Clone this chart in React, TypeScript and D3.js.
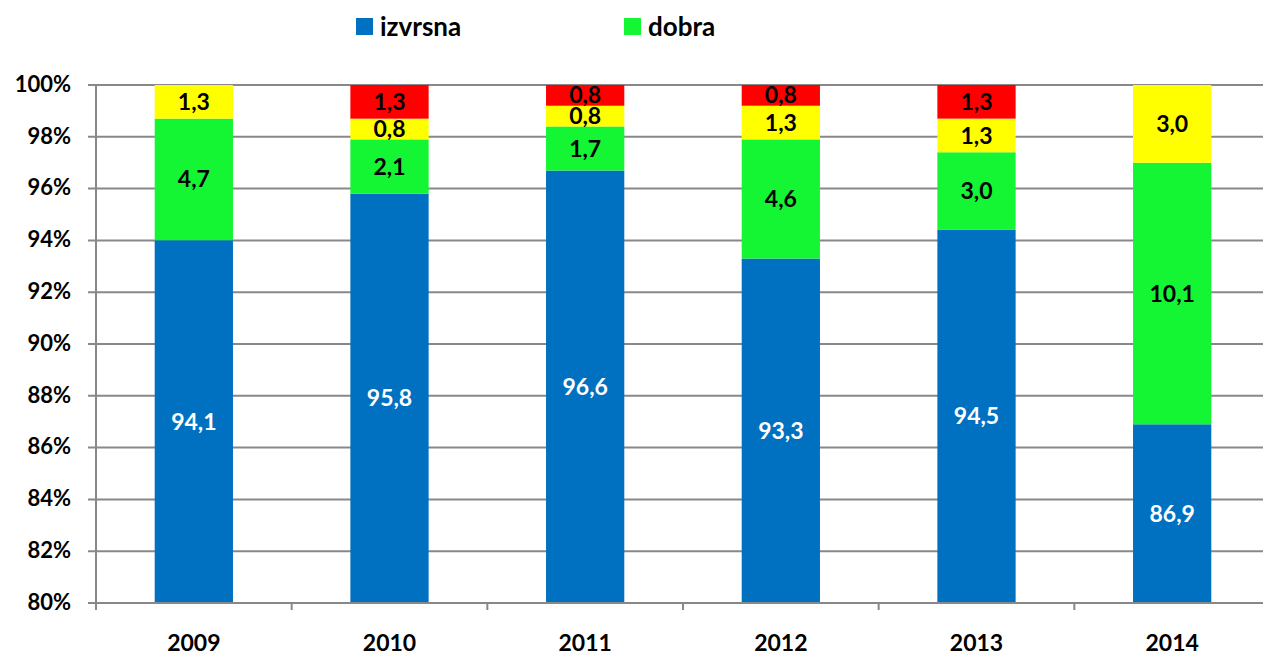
import React from "react";
import * as d3 from "d3";

const years = ["2009", "2010", "2011", "2012", "2013", "2014"];
const izvrsna = [94.1, 95.8, 96.6, 93.3, 94.5, 86.9];
const dobra = [4.7, 2.1, 1.7, 4.6, 3.0, 10.1];
const zadovoljavajuca = [1.3, 0.8, 0.8, 1.3, 1.3, 3.0];
const losa = [0, 1.3, 0.8, 0.8, 1.3, 0];
const yTicks = [0.8, 0.82, 0.84, 0.86, 0.88, 0.9, 0.92, 0.94, 0.96, 0.98, 1.0];

const seriesKeys = ["izvrsna", "dobra", "zadovoljavajuca", "losa"];
const seriesColors = ["#0070C0", "#14F534", "#FFFF00", "#FF0000"];
const labelColors = ["#FFFFFF", "#000000", "#000000", "#000000"];
const legendItems = [
  { name: "izvrsna", color: "#0070C0" },
  { name: "dobra", color: "#14F534" },
];

const W = 1263;
const H = 655;
const plotLeft = 96;
const plotRight = 1270;
const plotTop = 85;
const plotBottom = 603;
const FONT = "Lato, 'Open Sans', sans-serif";

export default function App() {
  const rows = years.map((y, i) => ({
    year: y,
    izvrsna: izvrsna[i],
    dobra: dobra[i],
    zadovoljavajuca: zadovoljavajuca[i],
    losa: losa[i],
  }));
  const stack = d3.stack<any>().keys(seriesKeys).offset(d3.stackOffsetExpand);
  const stacked = stack(rows);

  const x = d3.scaleBand().domain(years).range([plotLeft, plotRight]).paddingInner(0.6).paddingOuter(0.3);
  const y = d3.scaleLinear().domain([0.8, 1]).range([plotBottom, plotTop]);
  const bounds = d3.range(years.length + 1).map((i) => plotLeft + i * ((plotRight - plotLeft) / years.length));

  return (
    <svg width={W} height={H} style={{ position: "absolute", left: 0, top: 0, background: "#fff" }}>
      <defs>
        <clipPath id="plotclip">
          <rect x={plotLeft} y={plotTop} width={plotRight - plotLeft} height={plotBottom - plotTop} />
        </clipPath>
      </defs>
      {yTicks.map((t) => (
        <g key={t}>
          <line x1={88} x2={plotRight} y1={y(t)} y2={y(t)} stroke="#888888" strokeWidth={2} />
          <text
            x={71}
            y={y(t) - 1}
            dy="0.35em"
            textAnchor="end"
            fontFamily={FONT}
            fontWeight="bold"
            fontSize={22}
            fill="#000"
          >
            {Math.round(t * 100) + "%"}
          </text>
        </g>
      ))}
      <g clipPath="url(#plotclip)">
        {stacked.map((s, si) =>
          s.map((d, i) => {
            const v = (rows[i] as any)[seriesKeys[si]];
            if (!v) return null;
            const y0 = y(d[0]);
            const y1 = y(d[1]);
            return (
              <rect
                key={si + "-" + i}
                x={x(years[i])}
                width={x.bandwidth()}
                y={Math.min(y0, y1)}
                height={Math.abs(y0 - y1)}
                fill={seriesColors[si]}
              />
            );
          })
        )}
      </g>
      {stacked.map((s, si) =>
        s.map((d, i) => {
          const v = (rows[i] as any)[seriesKeys[si]];
          if (!v) return null;
          const top = Math.max(d[1], d[0]);
          const bot = Math.max(d[0], 0.8);
          const mid = (y(Math.min(top, 1)) + y(bot)) / 2;
          return (
            <text
              key={"l" + si + "-" + i}
              x={(x(years[i]) as number) + x.bandwidth() / 2}
              y={mid}
              dy="0.35em"
              textAnchor="middle"
              fontFamily={FONT}
              fontWeight="bold"
              fontSize={23}
              fill={labelColors[si]}
            >
              {v.toFixed(1).replace(".", ",")}
            </text>
          );
        })
      )}
      <line x1={plotLeft} x2={plotLeft} y1={plotTop} y2={plotBottom + 6} stroke="#888888" strokeWidth={2} />
      <line x1={plotLeft} x2={plotRight} y1={plotBottom} y2={plotBottom} stroke="#888888" strokeWidth={2} />
      {bounds.map((b, i) => (
        <line key={"xt" + i} x1={b} x2={b} y1={plotBottom} y2={plotBottom + 7} stroke="#888888" strokeWidth={2} />
      ))}
      {years.map((yr) => (
        <text
          key={"x" + yr}
          x={(x(yr) as number) + x.bandwidth() / 2}
          y={643}
          dy="0.35em"
          textAnchor="middle"
          fontFamily={FONT}
          fontWeight="bold"
          fontSize={23}
          fill="#000"
        >
          {yr}
        </text>
      ))}
      {legendItems.map((it, i) => (
        <g key={it.name} transform={`translate(${356 + i * 268},18)`}>
          <rect x={0} y={0} width={17} height={17} fill={it.color} />
          <text x={24} y={9} dy="0.35em" fontFamily={FONT} fontWeight="bold" fontSize={26} fill="#000">
            {it.name}
          </text>
        </g>
      ))}
    </svg>
  );
}
